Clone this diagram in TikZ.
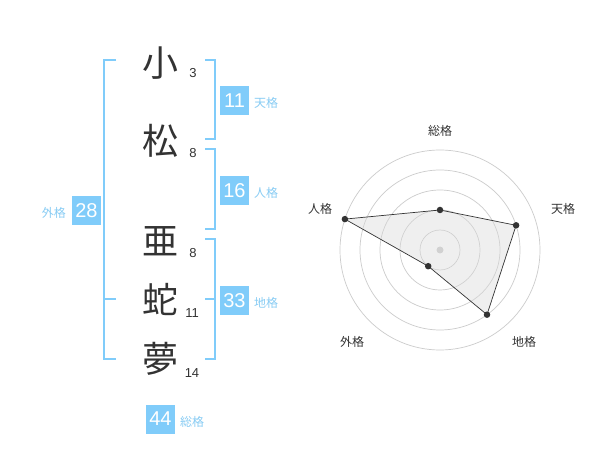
\documentclass[tikz,border=0pt]{standalone}
\usepackage{fontspec}
\setmainfont{Noto Sans CJK JP}
\newfontfamily\numfont{Liberation Sans}
\definecolor{boxblue}{HTML}{80CCFA}
\definecolor{lblblue}{HTML}{88CCF4}
\definecolor{ink}{HTML}{333333}
\definecolor{ringgrey}{HTML}{CCCCCC}
\begin{document}
\begin{tikzpicture}[x=1pt,y=-1pt,
  kanji/.style={text=ink,font=\fontsize{36}{36}\selectfont,inner sep=0pt},
  strokes/.style={text=ink,font=\numfont\fontsize{13}{13}\selectfont,inner sep=0pt},
  valbox/.style={fill=boxblue,text=white,minimum width=29pt,minimum height=29pt,inner sep=0pt,font=\numfont\fontsize{20}{20}\selectfont},
  kaku/.style={text=lblblue,font=\fontsize{12}{12}\selectfont,inner sep=0pt},
  bracket/.style={draw=boxblue,line width=2pt},
  ring/.style={draw=ringgrey,line width=0.7pt},
  axlabel/.style={text=ink,font=\fontsize{12}{12}\selectfont,inner sep=0pt},
  pt/.style={circle,fill=ink,inner sep=0pt,minimum size=6.5pt}]
\useasboundingbox (0,0) rectangle (600,470);
\fill[white] (0,0) rectangle (600,470);
% characters
\node[kanji] (c1) at (160,63) {小};
\node[kanji] (c2) at (160,141) {松};
\node[kanji] (c3) at (160,241) {亜};
\node[kanji] (c4) at (160,299) {蛇};
\node[kanji] (c5) at (160,359) {夢};
\node[strokes] (s1) at (193,73) {3};
\node[strokes] (s2) at (193,153) {8};
\node[strokes] (s3) at (193,253) {8};
\node[strokes] (s4) at (192,313) {11};
\node[strokes] (s5) at (192,373) {14};
% brackets
\draw[bracket] (116,60) -- (104,60) -- (104,359.5) -- (116,359.5);
\draw[bracket] (104,299.5) -- (116,299.5);
\draw[bracket] (205,60) -- (214.5,60) -- (214.5,139.5) -- (205,139.5);
\draw[bracket] (205,149.5) -- (214.5,149.5) -- (214.5,229.5) -- (205,229.5);
\draw[bracket] (205,239.5) -- (214.5,239.5) -- (214.5,359.5) -- (205,359.5);
\draw[bracket] (205,299.5) -- (214.5,299.5);
% value boxes
\node[valbox] (b11) at (234.5,100.5) {11};
\node[kaku,anchor=west] (l11) at (254,103) {天格};
\node[valbox] (b16) at (234.5,190.5) {16};
\node[kaku,anchor=west] (l16) at (254,193) {人格};
\node[valbox] (b28) at (86.5,210.5) {28};
\node[kaku,anchor=east] (l28) at (66,213) {外格};
\node[valbox] (b33) at (234.5,300.5) {33};
\node[kaku,anchor=west] (l33) at (254,303) {地格};
\node[valbox] (b44) at (160.5,419) {44};
\node[kaku,anchor=west] (l44) at (180,422) {総格};
% radar
\coordinate (ctr) at (440,250);
\foreach \r in {20,40,60,80,100} \draw[ring] (ctr) circle[radius=\r];
\fill[ringgrey] (ctr) circle[radius=3.5];
\coordinate (pS) at (440,210);
\coordinate (pT) at (516.1,225.3);
\coordinate (pC) at (487.0,314.7);
\coordinate (pG) at (428.2,266.2);
\coordinate (pJ) at (344.9,219.1);
\filldraw[fill=black!15,fill opacity=0.4,draw=ink,line width=0.7pt] (pS) -- (pT) -- (pC) -- (pG) -- (pJ) -- cycle;
\foreach \p in {pS,pT,pC,pG,pJ} \node[pt] at (\p) {};
\node[axlabel] (aS) at (440,131) {総格};
\node[axlabel] (aT) at (563,209) {天格};
\node[axlabel] (aC) at (524,342) {地格};
\node[axlabel] (aG) at (352,342) {外格};
\node[axlabel] (aJ) at (320,209) {人格};
\end{tikzpicture}
\end{document}
